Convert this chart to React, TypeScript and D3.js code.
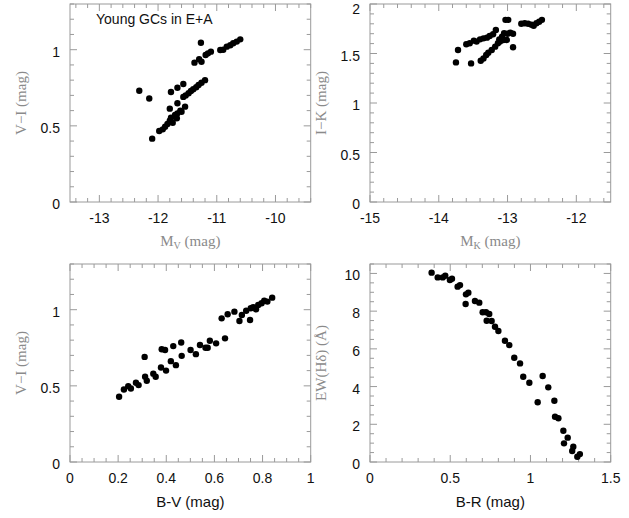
import React from "react";
import * as d3 from "d3";

// Panel 1: M_V vs V-I
const mvV: number[] = [-12.32,-12.15,-12.10,-11.98,-11.92,-11.88,-11.84,-11.80,-11.75,-11.78,-11.71,-11.68,-11.67,-11.60,-11.54,-11.80,-11.67,-11.57,-11.53,-11.48,-11.44,-11.40,-11.35,-11.31,-11.26,-11.20,-11.78,-11.67,-11.57,-11.38,-11.30,-11.26,-11.27,-11.19,-11.15,-11.10,-10.94,-10.89,-10.83,-10.77,-10.72,-10.66,-10.60,-11.62];
const viV: number[] = [0.73,0.68,0.416,0.466,0.477,0.494,0.512,0.534,0.52,0.553,0.571,0.55,0.582,0.593,0.626,0.613,0.648,0.69,0.70,0.714,0.729,0.74,0.753,0.768,0.783,0.80,0.722,0.75,0.775,0.915,0.937,0.921,1.046,0.965,0.976,0.987,0.998,1.0,1.02,1.029,1.042,1.053,1.068,0.60];

// Panel 2: M_K vs I-K
const mkK: number[] = [-13.75,-13.72,-13.53,-13.60,-13.55,-13.49,-13.45,-13.40,-13.35,-13.30,-13.26,-13.21,-13.17,-13.39,-13.35,-13.31,-13.28,-13.23,-13.18,-13.14,-13.12,-13.08,-13.05,-13.03,-12.99,-13.06,-13.01,-13.00,-12.96,-12.92,-12.92,-12.80,-12.75,-12.70,-12.65,-12.62,-12.58,-12.54,-12.50,-13.11];
const ikK: number[] = [1.41,1.535,1.40,1.593,1.603,1.63,1.62,1.643,1.653,1.66,1.677,1.694,1.737,1.427,1.45,1.485,1.508,1.535,1.569,1.603,1.643,1.67,1.704,1.84,1.84,1.636,1.636,1.70,1.71,1.70,1.563,1.80,1.805,1.80,1.79,1.78,1.805,1.82,1.84,1.62];

// Panel 3: B-V vs V-I
const bvB: number[] = [0.204,0.224,0.242,0.253,0.274,0.285,0.312,0.319,0.31,0.346,0.356,0.378,0.381,0.395,0.399,0.419,0.429,0.44,0.462,0.464,0.501,0.523,0.54,0.563,0.572,0.581,0.607,0.644,0.63,0.655,0.683,0.704,0.714,0.732,0.748,0.751,0.773,0.782,0.796,0.807,0.82,0.84,0.761];
const viB: number[] = [0.428,0.476,0.498,0.483,0.52,0.505,0.56,0.533,0.69,0.58,0.56,0.62,0.74,0.735,0.60,0.662,0.761,0.636,0.785,0.697,0.735,0.708,0.768,0.75,0.75,0.796,0.779,0.812,0.943,0.97,0.987,0.926,0.965,0.993,0.932,1.009,1.003,1.031,1.042,1.059,1.053,1.079,1.016];

// Panel 4: B-R vs EW(Hdelta)
const brR: number[] = [0.384,0.422,0.453,0.469,0.498,0.511,0.546,0.561,0.598,0.613,0.596,0.654,0.681,0.702,0.723,0.743,0.727,0.758,0.779,0.80,0.841,0.868,0.899,0.935,0.955,0.993,1.076,1.111,1.045,1.149,1.153,1.174,1.205,1.232,1.209,1.267,1.26,1.292,1.308];
const ewR: number[] = [10.04,9.79,9.79,9.88,9.65,9.72,9.30,9.38,8.89,8.98,8.38,8.54,8.45,7.94,7.94,7.85,7.49,7.48,7.17,6.95,6.43,6.20,5.53,5.23,4.52,4.20,4.56,3.96,3.17,3.25,2.40,2.32,1.66,1.29,0.99,0.81,0.58,0.28,0.42];

const p1XTicks = [-13, -12, -11, -10];
const p1YTicks = [0, 0.5, 1];
const p2XTicks = [-15, -14, -13, -12];
const p2YTicks = [0, 0.5, 1, 1.5, 2];
const p3XTicks = [0, 0.2, 0.4, 0.6, 0.8, 1];
const p3YTicks = [0, 0.5, 1];
const p4XTicks = [0, 0.5, 1, 1.5];
const p4YTicks = [0, 2, 4, 6, 8, 10];

const FRAME = "#9a9a9a";
const TITLE = "#8a8a8a";
const SANS = "'Liberation Sans', Arial, Helvetica, sans-serif";
const SERIF = "'Liberation Serif', 'DejaVu Serif', serif";

type PanelProps = {
  left: number; top: number; w: number; h: number;
  xd: [number, number]; yd: [number, number];
  xMaj: number[]; yMaj: number[]; xMinStep: number; yMinStep: number;
  xs: number[]; ys: number[];
  xTitle: React.ReactNode; yTitle: React.ReactNode;
  xTitleSerif: boolean;
};

function range(a: number, b: number, s: number): number[] {
  const out: number[] = [];
  const start = Math.ceil(a / s - 1e-6);
  for (let i = start; i * s <= b + 1e-9; i++) out.push(+(i * s).toFixed(6));
  return out;
}

function Panel(p: PanelProps) {
  const x = d3.scaleLinear().domain(p.xd).range([p.left, p.left + p.w]);
  const y = d3.scaleLinear().domain(p.yd).range([p.top + p.h, p.top]);
  const xMinor = range(p.xd[0], p.xd[1], p.xMinStep);
  const yMinor = range(p.yd[0], p.yd[1], p.yMinStep);
  const isMaj = (v: number, arr: number[]) => arr.some((m) => Math.abs(m - v) < 1e-6);
  const bottom = p.top + p.h;
  const right = p.left + p.w;
  return (
    <g>
      <rect x={p.left} y={p.top} width={p.w} height={p.h} fill="none" stroke={FRAME} strokeWidth={1} />
      {xMinor.map((v, i) => {
        const L = isMaj(v, p.xMaj) ? 7 : 4;
        const xx = x(v);
        return (
          <g key={"xt" + i} stroke={FRAME} strokeWidth={1}>
            <line x1={xx} x2={xx} y1={bottom} y2={bottom - L} />
            <line x1={xx} x2={xx} y1={p.top} y2={p.top + L} />
          </g>
        );
      })}
      {yMinor.map((v, i) => {
        const L = isMaj(v, p.yMaj) ? 7 : 4;
        const yy = y(v);
        return (
          <g key={"yt" + i} stroke={FRAME} strokeWidth={1}>
            <line x1={p.left} x2={p.left + L} y1={yy} y2={yy} />
            <line x1={right} x2={right - L} y1={yy} y2={yy} />
          </g>
        );
      })}
      {p.xMaj.map((v, i) => (
        <text key={"xl" + i} x={x(v)} y={bottom + 16} textAnchor="middle" dominantBaseline="central"
          fontFamily={SANS} fontSize={14} fill="#111">{String(v)}</text>
      ))}
      {p.yMaj.map((v, i) => (
        <text key={"yl" + i} x={p.left - 10} y={Math.max(y(v) + 2, 9)} textAnchor="end" dominantBaseline="central"
          fontFamily={SANS} fontSize={14} fill="#111">{String(v)}</text>
      ))}
      {p.xs.map((v, i) => (
        <circle key={"pt" + i} cx={x(v)} cy={y(p.ys[i])} r={3.2} fill="#000" />
      ))}
      <text x={p.left + p.w / 2} y={bottom + 39} textAnchor="middle" dominantBaseline="central"
        fontFamily={p.xTitleSerif ? SERIF : SANS} fontSize={15}
        fill={p.xTitleSerif ? TITLE : "#111"}>{p.xTitle}</text>
      <text transform={`translate(${p.left - 49},${p.top + p.h / 2}) rotate(-90)`} textAnchor="middle"
        dominantBaseline="central" fontFamily={SERIF} fontSize={15} fill={TITLE}>{p.yTitle}</text>
    </g>
  );
}

export default function App() {
  const W = 240.7, H = 198;
  return (
    <svg width={629} height={518} style={{ position: "absolute", left: 0, top: 0, background: "#fff" }}>
      <rect x={0} y={0} width={629} height={518} fill="#fff" />
      <Panel left={70} top={4} w={W} h={H} xd={[-13.5, -9.4]} yd={[0, 1.3]}
        xMaj={p1XTicks} yMaj={p1YTicks} xMinStep={0.2} yMinStep={0.1}
        xs={mvV} ys={viV} xTitleSerif={true}
        xTitle={<>M<tspan fontSize={10} dy={4}>V</tspan><tspan dy={-4}> (mag)</tspan></>}
        yTitle={"V\u2212I (mag)"} />
      <Panel left={370} top={4} w={W} h={H} xd={[-15, -11.5]} yd={[0, 2]}
        xMaj={p2XTicks} yMaj={p2YTicks} xMinStep={0.2} yMinStep={0.1}
        xs={mkK} ys={ikK} xTitleSerif={true}
        xTitle={<>M<tspan fontSize={10} dy={4}>K</tspan><tspan dy={-4}> (mag)</tspan></>}
        yTitle={"I\u2212K (mag)"} />
      <Panel left={70} top={264} w={W} h={H} xd={[0, 1]} yd={[0, 1.3]}
        xMaj={p3XTicks} yMaj={p3YTicks} xMinStep={0.05} yMinStep={0.1}
        xs={bvB} ys={viB} xTitleSerif={false}
        xTitle={"B-V (mag)"} yTitle={"V\u2212I (mag)"} />
      <Panel left={370} top={264} w={W} h={H} xd={[0, 1.5]} yd={[0, 10.5]}
        xMaj={p4XTicks} yMaj={p4YTicks} xMinStep={0.1} yMinStep={0.5}
        xs={brR} ys={ewR} xTitleSerif={false}
        xTitle={"B-R (mag)"} yTitle={"EW(H\u03b4) (\u00c5)"} />
      <text x={96} y={19} dominantBaseline="central" fontFamily={SANS} fontSize={14} fill="#111">Young GCs in E+A</text>
    </svg>
  );
}
